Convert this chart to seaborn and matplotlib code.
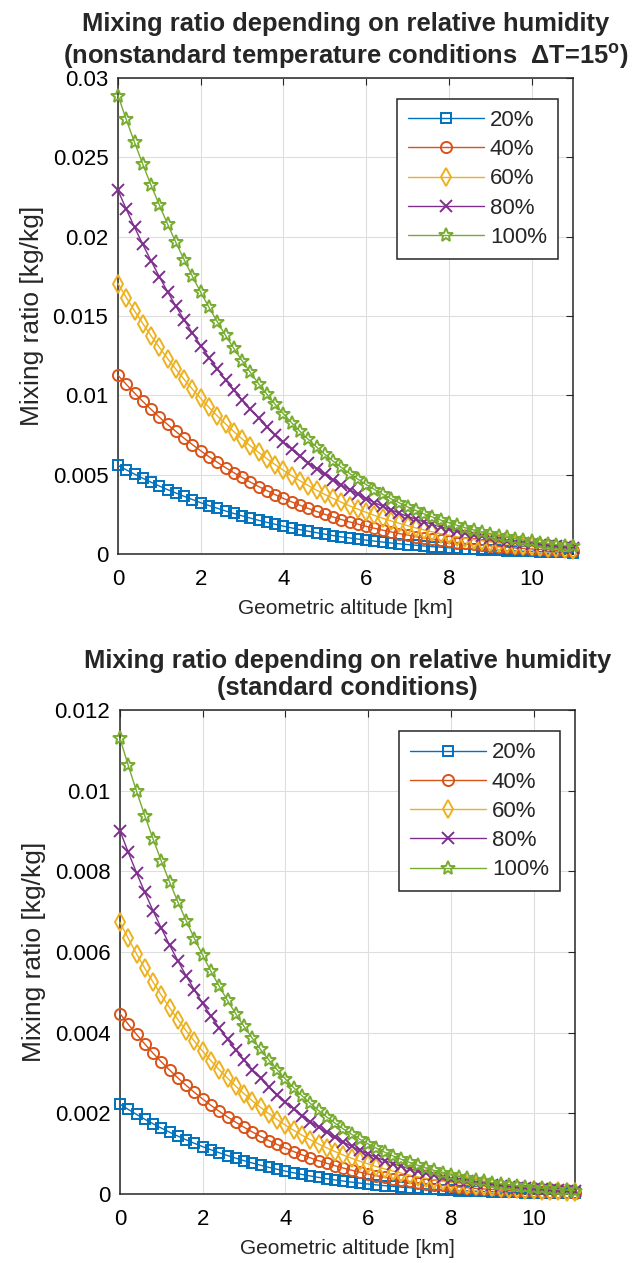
import matplotlib
matplotlib.use("Agg")
import matplotlib.pyplot as plt
import seaborn as sns

# ---------------- data ----------------
altitude_km = [0.0, 0.2, 0.4, 0.6, 0.8, 1.0, 1.2, 1.4, 1.6, 1.8,
               2.0, 2.2, 2.4, 2.6, 2.8, 3.0, 3.2, 3.4, 3.6, 3.8,
               4.0, 4.2, 4.4, 4.6, 4.8, 5.0, 5.2, 5.4, 5.6, 5.8,
               6.0, 6.2, 6.4, 6.6, 6.8, 7.0, 7.2, 7.4, 7.6, 7.8,
               8.0, 8.2, 8.4, 8.6, 8.8, 9.0, 9.2, 9.4, 9.6, 9.8,
               10.0, 10.2, 10.4, 10.6, 10.8, 11.0]

humidity_labels = ["20%", "40%", "60%", "80%", "100%"]

# nonstandard temperature conditions (dT = 15)
nonstd_20 = [0.00558, 0.00530, 0.00503, 0.00477, 0.00452, 0.00428, 0.00405, 0.00384, 0.00363, 0.00343,
             0.00323, 0.00305, 0.00288, 0.00271, 0.00255, 0.00240, 0.00226, 0.00212, 0.00199, 0.00187,
             0.00175, 0.00164, 0.00153, 0.00143, 0.00134, 0.00125, 0.00116, 0.00108, 0.00101, 0.00094,
             0.00087, 0.00081, 0.00075, 0.00069, 0.00064, 0.00059, 0.00055, 0.00050, 0.00046, 0.00043,
             0.00039, 0.00036, 0.00033, 0.00030, 0.00028, 0.00025, 0.00023, 0.00021, 0.00019, 0.00017,
             0.00016, 0.00014, 0.00013, 0.00012, 0.00011, 0.00009]
nonstd_40 = [0.01126, 0.01069, 0.01014, 0.00961, 0.00911, 0.00862, 0.00816, 0.00772, 0.00729, 0.00689,
             0.00650, 0.00613, 0.00578, 0.00544, 0.00512, 0.00482, 0.00453, 0.00425, 0.00399, 0.00374,
             0.00350, 0.00328, 0.00307, 0.00287, 0.00268, 0.00250, 0.00233, 0.00217, 0.00202, 0.00188,
             0.00174, 0.00162, 0.00150, 0.00139, 0.00128, 0.00119, 0.00109, 0.00101, 0.00093, 0.00085,
             0.00079, 0.00072, 0.00066, 0.00060, 0.00055, 0.00051, 0.00046, 0.00042, 0.00038, 0.00035,
             0.00031, 0.00029, 0.00026, 0.00023, 0.00021, 0.00019]
nonstd_60 = [0.01704, 0.01616, 0.01532, 0.01452, 0.01375, 0.01302, 0.01231, 0.01164, 0.01100, 0.01038,
             0.00980, 0.00924, 0.00870, 0.00820, 0.00771, 0.00725, 0.00681, 0.00640, 0.00600, 0.00563,
             0.00527, 0.00493, 0.00461, 0.00431, 0.00402, 0.00375, 0.00350, 0.00326, 0.00303, 0.00282,
             0.00262, 0.00243, 0.00225, 0.00208, 0.00193, 0.00178, 0.00164, 0.00151, 0.00139, 0.00128,
             0.00118, 0.00108, 0.00099, 0.00091, 0.00083, 0.00076, 0.00069, 0.00063, 0.00057, 0.00052,
             0.00047, 0.00043, 0.00039, 0.00035, 0.00032, 0.00028]
nonstd_80 = [0.02291, 0.02173, 0.02059, 0.01951, 0.01847, 0.01747, 0.01652, 0.01561, 0.01475, 0.01392,
             0.01313, 0.01238, 0.01166, 0.01097, 0.01032, 0.00970, 0.00912, 0.00856, 0.00803, 0.00752,
             0.00705, 0.00659, 0.00617, 0.00576, 0.00538, 0.00502, 0.00467, 0.00435, 0.00405, 0.00376,
             0.00349, 0.00324, 0.00300, 0.00278, 0.00257, 0.00237, 0.00219, 0.00202, 0.00186, 0.00171,
             0.00157, 0.00144, 0.00132, 0.00121, 0.00111, 0.00101, 0.00092, 0.00084, 0.00076, 0.00069,
             0.00063, 0.00057, 0.00052, 0.00047, 0.00042, 0.00038]
nonstd_100 = [0.02889, 0.02738, 0.02594, 0.02456, 0.02324, 0.02199, 0.02078, 0.01963, 0.01854, 0.01749,
              0.01649, 0.01554, 0.01464, 0.01377, 0.01296, 0.01218, 0.01144, 0.01073, 0.01007, 0.00943,
              0.00883, 0.00826, 0.00773, 0.00722, 0.00674, 0.00628, 0.00585, 0.00545, 0.00507, 0.00471,
              0.00437, 0.00406, 0.00376, 0.00348, 0.00322, 0.00297, 0.00274, 0.00253, 0.00233, 0.00214,
              0.00197, 0.00180, 0.00165, 0.00151, 0.00138, 0.00126, 0.00115, 0.00105, 0.00096, 0.00087,
              0.00079, 0.00071, 0.00065, 0.00058, 0.00053, 0.00047]

# standard conditions
std_20 = [0.002229, 0.002098, 0.001974, 0.001855, 0.001742, 0.001635, 0.001533, 0.001436, 0.001344, 0.001257,
          0.001175, 0.001097, 0.001024, 0.000954, 0.000889, 0.000827, 0.000769, 0.000714, 0.000662, 0.000614,
          0.000568, 0.000526, 0.000486, 0.000448, 0.000413, 0.000381, 0.000350, 0.000322, 0.000295, 0.000271,
          0.000248, 0.000227, 0.000207, 0.000189, 0.000172, 0.000157, 0.000142, 0.000129, 0.000117, 0.000106,
          0.000096, 0.000086, 0.000078, 0.000070, 0.000063, 0.000056, 0.000050, 0.000045, 0.000040, 0.000036,
          0.000032, 0.000028, 0.000025, 0.000022, 0.000019, 0.000017]
std_40 = [0.004474, 0.004210, 0.003959, 0.003720, 0.003493, 0.003277, 0.003073, 0.002878, 0.002694, 0.002520,
          0.002355, 0.002198, 0.002051, 0.001911, 0.001780, 0.001656, 0.001539, 0.001429, 0.001326, 0.001229,
          0.001138, 0.001052, 0.000972, 0.000897, 0.000827, 0.000762, 0.000701, 0.000644, 0.000591, 0.000542,
          0.000496, 0.000454, 0.000415, 0.000378, 0.000344, 0.000313, 0.000285, 0.000258, 0.000234, 0.000212,
          0.000191, 0.000173, 0.000156, 0.000140, 0.000126, 0.000113, 0.000101, 0.000090, 0.000080, 0.000071,
          0.000064, 0.000056, 0.000050, 0.000044, 0.000039, 0.000034]
std_60 = [0.006733, 0.006336, 0.005957, 0.005596, 0.005254, 0.004928, 0.004620, 0.004327, 0.004049, 0.003787,
          0.003538, 0.003303, 0.003081, 0.002871, 0.002673, 0.002487, 0.002311, 0.002146, 0.001991, 0.001845,
          0.001708, 0.001580, 0.001459, 0.001347, 0.001242, 0.001144, 0.001052, 0.000967, 0.000887, 0.000813,
          0.000745, 0.000681, 0.000622, 0.000567, 0.000517, 0.000470, 0.000427, 0.000388, 0.000351, 0.000318,
          0.000287, 0.000259, 0.000233, 0.000210, 0.000188, 0.000169, 0.000151, 0.000135, 0.000120, 0.000107,
          0.000095, 0.000085, 0.000075, 0.000066, 0.000058, 0.000051]
std_80 = [0.009008, 0.008475, 0.007966, 0.007483, 0.007023, 0.006588, 0.006174, 0.005782, 0.005410, 0.005059,
          0.004726, 0.004411, 0.004114, 0.003834, 0.003569, 0.003320, 0.003085, 0.002865, 0.002657, 0.002462,
          0.002279, 0.002108, 0.001947, 0.001797, 0.001657, 0.001526, 0.001403, 0.001289, 0.001183, 0.001085,
          0.000993, 0.000908, 0.000830, 0.000757, 0.000689, 0.000627, 0.000570, 0.000517, 0.000468, 0.000424,
          0.000383, 0.000345, 0.000311, 0.000280, 0.000251, 0.000225, 0.000202, 0.000180, 0.000161, 0.000143,
          0.000127, 0.000113, 0.000100, 0.000088, 0.000078, 0.000069]
std_100 = [0.011299, 0.010627, 0.009988, 0.009380, 0.008803, 0.008255, 0.007735, 0.007243, 0.006777, 0.006335,
           0.005918, 0.005523, 0.005151, 0.004799, 0.004467, 0.004155, 0.003861, 0.003584, 0.003324, 0.003080,
           0.002851, 0.002637, 0.002436, 0.002248, 0.002072, 0.001908, 0.001755, 0.001613, 0.001480, 0.001357,
           0.001242, 0.001136, 0.001037, 0.000946, 0.000862, 0.000784, 0.000712, 0.000646, 0.000586, 0.000530,
           0.000479, 0.000432, 0.000389, 0.000350, 0.000314, 0.000282, 0.000252, 0.000225, 0.000201, 0.000179,
           0.000159, 0.000141, 0.000125, 0.000110, 0.000097, 0.000086]

x_ticks = [0, 2, 4, 6, 8, 10]
x_tick_labels = ["0", "2", "4", "6", "8", "10"]
top_y_ticks = [0, 0.005, 0.01, 0.015, 0.02, 0.025, 0.03]
top_y_tick_labels = ["0", "0.005", "0.01", "0.015", "0.02", "0.025", "0.03"]
bottom_y_ticks = [0, 0.002, 0.004, 0.006, 0.008, 0.01, 0.012]
bottom_y_tick_labels = ["0", "0.002", "0.004", "0.006", "0.008", "0.01", "0.012"]

top_title = ("Mixing ratio depending on relative humidity\n"
             "(nonstandard temperature conditions  \u0394T=15$^{\\mathbf{o}}$)")
bottom_title = "Mixing ratio depending on relative humidity\n(standard conditions)"
x_label = "Geometric altitude [km]"
y_label = "Mixing ratio [kg/kg]"

# ---------------- style ----------------
series_colors = ["#0072BD", "#D95319", "#EDB120", "#7E2F8E", "#77AC30"]
series_markers = ["s", "o", "d", "x", "*"]
series_msizes = [7, 8, 9, 8, 10.5]

sns.set_style("white")
plt.rcParams["font.family"] = ["Liberation Sans", "DejaVu Sans"]
plt.rcParams["mathtext.fontset"] = "custom"
plt.rcParams["mathtext.rm"] = "Liberation Sans"
plt.rcParams["mathtext.bf"] = "Liberation Sans:bold"

AX_COLOR = "#262626"

fig = plt.figure(figsize=(6.44, 12.63), dpi=100)
ax_top = fig.add_axes([0.1832, 0.5614, 0.7065, 0.3769])
ax_bot = fig.add_axes([0.1863, 0.0546, 0.7065, 0.3832])


def draw_panel(ax, series_list, yticks, ytick_labels, title):
    for vals, lab, col, mk, ms in zip(series_list, humidity_labels, series_colors,
                                      series_markers, series_msizes):
        sns.lineplot(x=altitude_km, y=vals, ax=ax, color=col, marker=mk,
                     markersize=ms, markerfacecolor="none", markeredgecolor=col,
                     markeredgewidth=1.4, linewidth=1.0, label=lab,
                     clip_on=False, zorder=3)
    ax.set_xlim(0, 11)
    ax.set_ylim(yticks[0], yticks[-1])
    ax.set_xticks(x_ticks)
    ax.set_xticklabels(x_tick_labels)
    ax.set_yticks(yticks)
    ax.set_yticklabels(ytick_labels)
    ax.grid(True, color="#dedede", linewidth=0.8)
    ax.set_axisbelow(True)
    for sp in ax.spines.values():
        sp.set_visible(True)
        sp.set_color(AX_COLOR)
        sp.set_linewidth(1.1)
    ax.tick_params(axis="both", which="major", direction="in", top=True,
                   right=True, length=5, width=0.8, color=AX_COLOR,
                   labelsize=16, labelcolor="black")
    ax.tick_params(axis="x", pad=11)
    ax.tick_params(axis="y", pad=7)
    ax.set_xlabel(x_label, fontsize=15, labelpad=6)
    ax.set_ylabel(y_label, fontsize=19, labelpad=6)
    ax.set_title(title, fontsize=18.4, fontweight="bold", pad=10.5, linespacing=1.2)
    leg = ax.legend(loc="upper right", bbox_to_anchor=(0.967, 0.956),
                    borderaxespad=0, frameon=True, fancybox=False,
                    edgecolor=AX_COLOR, framealpha=1, fontsize=16,
                    handlelength=3.45, labelspacing=0.37, handletextpad=0.25,
                    borderpad=0.5)
    leg.get_frame().set_linewidth(1.1)


draw_panel(ax_top, [nonstd_20, nonstd_40, nonstd_60, nonstd_80, nonstd_100],
           top_y_ticks, top_y_tick_labels, top_title)
draw_panel(ax_bot, [std_20, std_40, std_60, std_80, std_100],
           bottom_y_ticks, bottom_y_tick_labels, bottom_title)

fig.savefig("out.png", dpi=100)
